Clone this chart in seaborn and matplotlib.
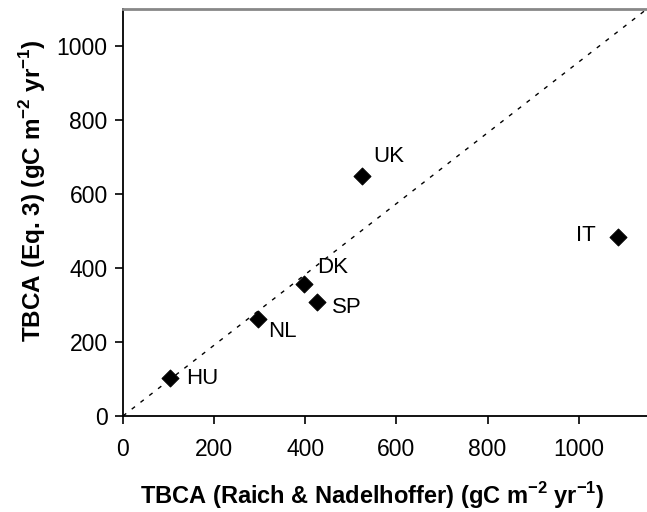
import matplotlib
matplotlib.use("Agg")
import matplotlib.pyplot as plt
import seaborn as sns
import pandas as pd

# site values
sites = ["HU", "NL", "DK", "SP", "UK", "IT"]
tbca_raich = [103, 297, 398, 426, 525, 1086]
tbca_eq3 = [102, 262, 357, 308, 649, 484]
# label offsets in points (dx, dy) and alignment
label_dx = [12, 7, 9, 11, 8, -16]
label_dy = [0, -9, 12, -4, 14, 1]
label_ha = ["left", "left", "left", "left", "left", "right"]

df = pd.DataFrame({"site": sites, "raich": tbca_raich, "eq3": tbca_eq3})

sns.set_style("ticks")
plt.rcParams["font.family"] = ["Liberation Sans", "DejaVu Sans"]
plt.rcParams["mathtext.fontset"] = "custom"
plt.rcParams["mathtext.rm"] = "Liberation Sans"
plt.rcParams["mathtext.bf"] = "Liberation Sans:bold"
plt.rcParams["text.color"] = "black"
plt.rcParams["axes.labelcolor"] = "black"
plt.rcParams["xtick.color"] = "black"
plt.rcParams["ytick.color"] = "black"

fig = plt.figure(figsize=(6.47, 5.12), dpi=100)
ax = fig.add_axes([0.19, 0.1875, 0.81, 0.795])

# 1:1 style diagonal across the plot area
ax.plot([0, 1], [0, 1], transform=ax.transAxes, ls=(0, (3, 5)), color="black", lw=1)

sns.scatterplot(data=df, x="raich", y="eq3", marker="D", s=75, color="black",
                edgecolor="black", ax=ax, zorder=3, legend=False)

for i, name in enumerate(sites):
    ax.annotate(name, (tbca_raich[i], tbca_eq3[i]), xytext=(label_dx[i], label_dy[i]),
                textcoords="offset points", ha=label_ha[i], va="center", fontsize=16)

ax.set_xlim(0, 1150)
ax.set_ylim(0, 1100)
ax.set_xticks([0, 200, 400, 600, 800, 1000])
ax.set_yticks([0, 200, 400, 600, 800, 1000])
ax.tick_params(axis="both", labelsize=16.5, length=6, width=1.2)
ax.tick_params(axis="x", pad=10)
ax.tick_params(axis="y", pad=5)

ax.set_xlabel("TBCA (Raich & Nadelhoffer) (gC m$^{\\mathbf{-2}}$ yr$^{\\mathbf{-1}}$)",
              fontsize=17, fontweight="bold")
ax.set_ylabel("TBCA (Eq. 3) (gC m$^{\\mathbf{-2}}$ yr$^{\\mathbf{-1}}$)",
              fontsize=17.5, fontweight="bold")
ax.xaxis.set_label_coords(0.476, -0.158)
ax.yaxis.set_label_coords(-0.143, 0.553)

for side in ["left", "bottom"]:
    ax.spines[side].set_color("black")
    ax.spines[side].set_linewidth(1.3)
ax.spines["top"].set_color("#888888")
ax.spines["top"].set_linewidth(2)
ax.spines["right"].set_visible(False)

fig.savefig("out.png", dpi=100)
